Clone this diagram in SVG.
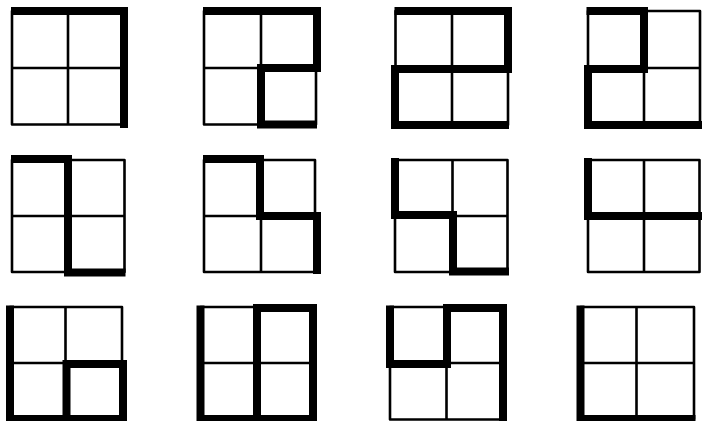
<svg xmlns="http://www.w3.org/2000/svg" width="702" height="421" viewBox="0 0 702 421">
<style>
.thin{fill:none;stroke:#000;stroke-width:2.6;stroke-linejoin:round;stroke-linecap:round}
.thick{fill:none;stroke:#000;stroke-width:8;stroke-linejoin:miter;stroke-linecap:butt}
</style>
<rect width="702" height="421" fill="#fff"/>
<g id="grid1">
<path class="thin" d="M12 11H124V124.5H12Z M68 11V124.5 M12 68H124"/>
<path class="thick" d="M11 11H124V128"/>
</g>
<g id="grid2">
<path class="thin" d="M204 11H316V124.5H204Z M261 11V124.5 M204 68H316"/>
<path class="thick" d="M203 11H317V68H261V124.5H317"/>
</g>
<g id="grid3">
<path class="thin" d="M395.5 11H508V125H395.5Z M452 11V125 M395.5 69H508"/>
<path class="thick" d="M394.5 11H508V69H395V125H509"/>
</g>
<g id="grid4">
<path class="thin" d="M588 11H700V125H588Z M644 11V125 M588 68H700"/>
<path class="thick" d="M586.5 11H644V69H588V125H702"/>
</g>
<g id="grid5">
<path class="thin" d="M12 160H124.5V272H12Z M68 160V272 M12 216H124.5"/>
<path class="thick" d="M11 159H68V272.5H125.5"/>
</g>
<g id="grid6">
<path class="thin" d="M204 160H315V272H204Z M261 160V272 M204 216H315"/>
<path class="thick" d="M203 159H260V216H317V274"/>
</g>
<g id="grid7">
<path class="thin" d="M395 160H507.5V272H395Z M452.5 160V272 M395 216H507.5"/>
<path class="thick" d="M395 158V215H453V271.5H509"/>
</g>
<g id="grid8">
<path class="thin" d="M588 160H699.5V272H588Z M644 160V272 M588 216H699.5"/>
<path class="thick" d="M588 158V216H702"/>
</g>
<g id="grid9">
<path class="thin" d="M10 307H122V419H10Z M65.5 307V419 M10 363H122"/>
<path class="thick" d="M10 305.5V419H123V364H66.5V421"/>
</g>
<g id="grid10">
<path class="thin" d="M200.5 307H313V419H200.5Z M257 307V419 M200.5 363H313"/>
<path class="thick" d="M200.5 305.5V419H313V308H257V421"/>
</g>
<g id="grid11">
<path class="thin" d="M390 307H503V419.5H390Z M446.5 307V419.5 M390 363H503"/>
<path class="thick" d="M390 305.5V364H447V308H503V421"/>
</g>
<g id="grid12">
<path class="thin" d="M580.5 307H694V419H580.5Z M636.5 307V419 M580.5 363H694"/>
<path class="thick" d="M580.5 305.5V419H695.5"/>
</g>
</svg>
